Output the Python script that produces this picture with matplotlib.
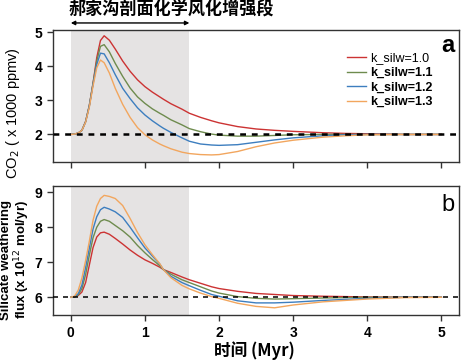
import matplotlib
matplotlib.use("Agg")
import matplotlib.pyplot as plt
import numpy as np

plt.rcParams["font.family"] = ["Liberation Sans", "Noto Sans CJK SC", "DejaVu Sans"]
plt.rcParams["lines.scale_dashes"] = False

# time axis (Myr), shared by all series
t = [0, 0.05, 0.1, 0.15, 0.2, 0.25, 0.3, 0.35, 0.4, 0.45, 0.52, 0.6, 0.7, 0.8, 0.9, 1.0,
     1.1, 1.2, 1.25, 1.35, 1.5, 1.6, 1.75, 1.9, 2.0, 2.25, 2.5, 2.75, 3.0, 3.4, 3.7, 4.0,
     4.5, 5.0]

# CO2 (x1000 ppmv)
co2_10 = [2.0, 2.01, 2.04, 2.12, 2.38, 2.85, 3.5, 4.25, 4.75, 4.89, 4.76, 4.5, 4.15, 3.85,
          3.6, 3.4, 3.24, 3.1, 3.03, 2.9, 2.74, 2.62, 2.5, 2.4, 2.34, 2.23, 2.16, 2.12,
          2.09, 2.05, 2.03, 2.02, 2.0, 2.0]
co2_11 = [2.0, 2.01, 2.04, 2.12, 2.38, 2.85, 3.5, 4.15, 4.58, 4.63, 4.42, 4.08, 3.7, 3.36,
          3.1, 2.91, 2.75, 2.62, 2.56, 2.43, 2.28, 2.17, 2.08, 2.01, 1.98, 1.95, 1.95, 1.97,
          1.99, 2.0, 2.0, 2.0, 2.0, 2.0]
co2_12 = [2.0, 2.01, 2.04, 2.12, 2.37, 2.83, 3.47, 4.05, 4.38, 4.36, 4.1, 3.75, 3.35, 3.05,
          2.78, 2.57, 2.4, 2.25, 2.18, 2.06, 1.9, 1.8, 1.72, 1.69, 1.68, 1.7, 1.77, 1.84,
          1.9, 1.96, 1.99, 2.0, 2.0, 2.0]
co2_13 = [2.0, 2.01, 2.04, 2.12, 2.36, 2.8, 3.42, 3.95, 4.18, 4.1, 3.8, 3.35, 2.88, 2.5,
          2.2, 1.99, 1.84, 1.72, 1.67, 1.58, 1.48, 1.44, 1.41, 1.4, 1.41, 1.5, 1.64, 1.75,
          1.83, 1.92, 1.96, 1.99, 2.0, 2.0]

# silicate weathering flux (x1e12 mol/yr)
flux_10 = [6.0, 6.01, 6.05, 6.15, 6.42, 6.92, 7.42, 7.72, 7.84, 7.86, 7.8, 7.68, 7.52, 7.35,
           7.2, 7.07, 6.97, 6.86, 6.79, 6.71, 6.58, 6.5, 6.4, 6.3, 6.25, 6.17, 6.11, 6.08,
           6.05, 6.03, 6.02, 6.01, 6.0, 6.0]
flux_11 = [6.0, 6.01, 6.07, 6.25, 6.65, 7.2, 7.7, 8.0, 8.17, 8.22, 8.17, 8.05, 7.9, 7.72,
           7.48, 7.27, 7.08, 6.9, 6.79, 6.66, 6.5, 6.42, 6.3, 6.18, 6.12, 6.02, 5.97, 5.95,
           5.96, 5.98, 5.99, 6.0, 6.0, 6.0]
flux_12 = [6.0, 6.02, 6.1, 6.35, 6.85, 7.4, 7.95, 8.3, 8.5, 8.57, 8.52, 8.44, 8.28, 8.0,
           7.7, 7.41, 7.18, 6.95, 6.79, 6.6, 6.42, 6.33, 6.2, 6.08, 6.03, 5.9, 5.84, 5.84,
           5.86, 5.91, 5.94, 5.97, 6.0, 6.0]
flux_13 = [6.0, 6.03, 6.2, 6.55, 7.05, 7.6, 8.2, 8.6, 8.82, 8.91, 8.88, 8.82, 8.62, 8.25,
           7.85, 7.5, 7.22, 6.96, 6.79, 6.56, 6.34, 6.24, 6.12, 6.02, 5.97, 5.83, 5.74, 5.7,
           5.78, 5.87, 5.91, 5.95, 5.99, 6.0]

labels = ["k_silw=1.0", "k_silw=1.1", "k_silw=1.2", "k_silw=1.3"]
colors = ["#cc3333", "#6e8b4e", "#3d7ebf", "#f2a65e"]
co2_series = [co2_10, co2_11, co2_12, co2_13]
flux_series = [flux_10, flux_11, flux_12, flux_13]

fig = plt.figure(figsize=(4.61, 3.61), dpi=100)
ax1 = fig.add_axes([0.115, 0.551, 0.881, 0.366])
ax2 = fig.add_axes([0.115, 0.127, 0.881, 0.358])

for ax in (ax1, ax2):
    ax.axvspan(0, 1.6, color="#e5e3e3", lw=0, zorder=0)
    ax.set_xlim(-0.24, 5.24)
    ax.set_xticks(range(6))
    for s in ax.spines.values():
        s.set_color("#333333")
        s.set_linewidth(1.0)
    ax.tick_params(direction="out", length=4, width=1, color="#333333", labelsize=10)

# --- top: CO2 ---
for y, c, l in zip(co2_series, colors, labels):
    ax1.plot(t, y, color=c, lw=1.0, label=l, zorder=2)
ax1.axhline(2.0, color="black", lw=1.8, dashes=(4.2, 4.2), zorder=3)
ax1.set_ylim(1.19, 5.06)
ax1.set_yticks([2, 3, 4, 5])
ax1.tick_params(labelbottom=False)
for lab in ax1.get_yticklabels():
    lab.set_fontweight("bold")

leg = ax1.legend(loc="upper left", bbox_to_anchor=(0.725, 0.83), frameon=False,
                 fontsize=9, handlelength=1.45, handletextpad=0.4, borderpad=0,
                 labelspacing=0.2, borderaxespad=0)
for i, txt in enumerate(leg.get_texts()):
    if i > 0:
        txt.set_fontweight("bold")
ax1.text(0.988, 0.886, "a", transform=ax1.transAxes, ha="right", va="center",
         fontsize=17, fontweight="bold")

ax1.annotate("", xy=(0, 1.053), xytext=(1.6, 1.053),
             xycoords=("data", "axes fraction"), textcoords=("data", "axes fraction"),
             arrowprops=dict(arrowstyle="<|-|>", color="black", lw=1.0,
                             mutation_scale=6, shrinkA=0, shrinkB=0),
             annotation_clip=False)
fig.text(0.372, 0.977, "郝家沟剖面化学风化增强段", ha="center", va="center",
         fontsize=12.3, fontweight="bold", family=["Noto Sans CJK SC"])

# --- bottom: silicate weathering flux ---
for y, c in zip(flux_series, colors):
    ax2.plot(t, y, color=c, lw=1.0, zorder=2)
ax2.axhline(6.0, color="black", lw=1.1, dashes=(3.6, 3.6), zorder=3)
ax2.set_ylim(5.49, 9.18)
ax2.set_yticks([6, 7, 8, 9])
for lab in ax2.get_yticklabels() + ax2.get_xticklabels():
    lab.set_fontweight("bold")
ax2.text(0.988, 0.853, "b", transform=ax2.transAxes, ha="right", va="center",
         fontsize=17)

fig.text(0.028, 0.687, "CO$_2$ ( x 1000 ppmv)", rotation=90, ha="center", va="center",
         fontsize=10.5)
fig.text(0.035, 0.28, "Silicate weathering\nflux (x 10$^{12}$ mol/yr)", rotation=90,
         ha="center", va="center", fontsize=9.5, fontweight="bold", linespacing=1.0)
fig.text(0.551, 0.03, "时间 (Myr)", ha="center", va="center", fontsize=12,
         fontweight="bold", family=["Noto Sans CJK SC", "Liberation Sans"])

fig.savefig("out.png", dpi=100)
